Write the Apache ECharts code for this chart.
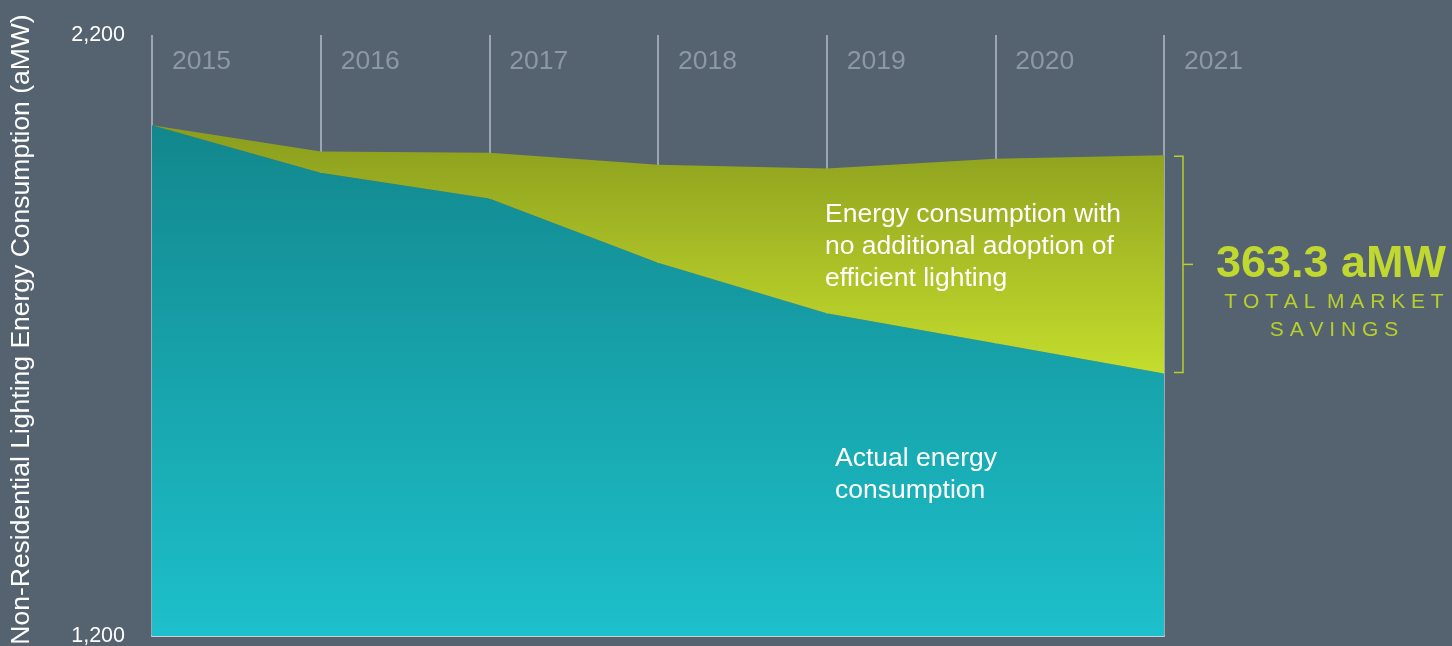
<!DOCTYPE html>
<html>
<head>
<meta charset="utf-8">
<script src="https://cdn.jsdelivr.net/npm/echarts@6/dist/echarts.min.js"></script>
<style>
html,body{margin:0;padding:0;background:#55626f;}
#chart{width:1452px;height:646px;}
</style>
</head>
<body>
<div id="chart"></div>
<script>
// ---- data ----
const years = ['2015','2016','2017','2018','2019','2020','2021'];
const baseline = [2050, 2006, 2004, 1984, 1978, 1994, 2000];   // no additional adoption
const actual   = [2050, 1971, 1928, 1821, 1737, 1687, 1636.7]; // actual consumption
const yTicks = [1200, 2200];
const savingsLabel = '363.3 aMW';

const savings = baseline.map((b, i) => +(b - actual[i]).toFixed(1));

const FONT = '"Liberation Sans", Arial, Helvetica, sans-serif';
const chart = echarts.init(document.getElementById('chart'));

const option = {
  backgroundColor: '#55626f',
  animation: false,
  grid: { left: 152, right: 288, top: 35, bottom: 10, containLabel: false, outerBoundsMode: 'none' },
  xAxis: [{
    type: 'category', data: years, boundaryGap: false, position: 'top',
    axisLine: { show: false }, axisTick: { show: false },
    splitLine: { show: true, lineStyle: { color: '#9ba6b2', width: 2 } },
    axisLabel: { inside: true, align: 'left', margin: 13, padding: [0,0,0,20],
      color: '#8c98a5', fontSize: 26.5, fontFamily: FONT, verticalAlign: 'top' }
  }, {
    type: 'category', data: years, boundaryGap: false, position: 'bottom',
    axisLine: { show: true, lineStyle: { color: '#c9d0d6', width: 2 } },
    axisTick: { show: false }, axisLabel: { show: false }, splitLine: { show: false }
  }],
  yAxis: {
    type: 'value', min: yTicks[0], max: yTicks[1], interval: yTicks[1] - yTicks[0],
    axisLine: { show: false }, axisTick: { show: false }, splitLine: { show: false },
    axisLabel: { color: '#ffffff', fontSize: 21.5, fontFamily: FONT, margin: 27,
      formatter: v => v.toLocaleString('en-US') },
    name: 'Non-Residential Lighting Energy Consumption (aMW)',
    nameLocation: 'middle', nameGap: 117,
    nameTextStyle: { color: '#ffffff', fontSize: 26.5, fontFamily: FONT, padding: [0,0,0,12] }
  },
  series: [{
    name: 'Actual energy consumption', type: 'line', stack: 'e', data: actual,
    symbol: 'none', lineStyle: { width: 0 }, z: 2,
    areaStyle: { opacity: 1, color: new echarts.graphic.LinearGradient(0,0,0,1,[
      { offset: 0, color: '#12878d' }, { offset: 1, color: '#1dc0cb' }]) }
  }, {
    name: 'No additional adoption', type: 'line', stack: 'e', data: savings,
    symbol: 'none', lineStyle: { width: 0 }, z: 2,
    areaStyle: { opacity: 1, color: new echarts.graphic.LinearGradient(0,0,0,1,[
      { offset: 0, color: '#8a9c1e' }, { offset: 1, color: '#c4dd2d' }]) }
  }]
};
chart.setOption(option);

// annotations and bracket positioned from the data via the chart's scales
const last = years.length - 1;
const pTop = chart.convertToPixel({ gridIndex: 0 }, [last, baseline[last]]);
const pBot = chart.convertToPixel({ gridIndex: 0 }, [last, actual[last]]);
const bx = pTop[0] + 19, midY = (pTop[1] + pBot[1]) / 2;
const green = '#b8d02b';
chart.setOption({
  graphic: [
    { type: 'polyline', shape: { points: [[bx - 9, pTop[1] + 1], [bx, pTop[1] + 1], [bx, pBot[1] - 1], [bx - 9, pBot[1] - 1]] },
      style: { stroke: green, lineWidth: 1.5, fill: null }, z: 10 },
    { type: 'line', shape: { x1: bx, y1: midY, x2: bx + 10, y2: midY },
      style: { stroke: green, lineWidth: 1.5 }, z: 10 },
    { type: 'text', x: 1331, y: midY, z: 10,
      style: { text: savingsLabel, fill: '#c0d82f', font: 'bold 45px ' + FONT, align: 'center', verticalAlign: 'middle' } },
    { type: 'text', x: 1334, y: midY + 38, z: 10,
      style: { text: 'T O T A L  M A R K E T', fill: green, font: '21px ' + FONT, align: 'center', verticalAlign: 'middle' } },
    { type: 'text', x: 1334, y: midY + 66, z: 10,
      style: { text: 'S A V I N G S', fill: green, font: '21px ' + FONT, align: 'center', verticalAlign: 'middle' } },
    { type: 'text', x: 825, y: 199, z: 10,
      style: { text: 'Energy consumption with\nno additional adoption of\nefficient lighting', fill: '#ffffff',
        font: '26.5px ' + FONT, lineHeight: 32, align: 'left', verticalAlign: 'top' } },
    { type: 'text', x: 835, y: 443, z: 10,
      style: { text: 'Actual energy\nconsumption', fill: '#ffffff',
        font: '26.5px ' + FONT, lineHeight: 32, align: 'left', verticalAlign: 'top' } }
  ]
});
</script>
</body>
</html>
